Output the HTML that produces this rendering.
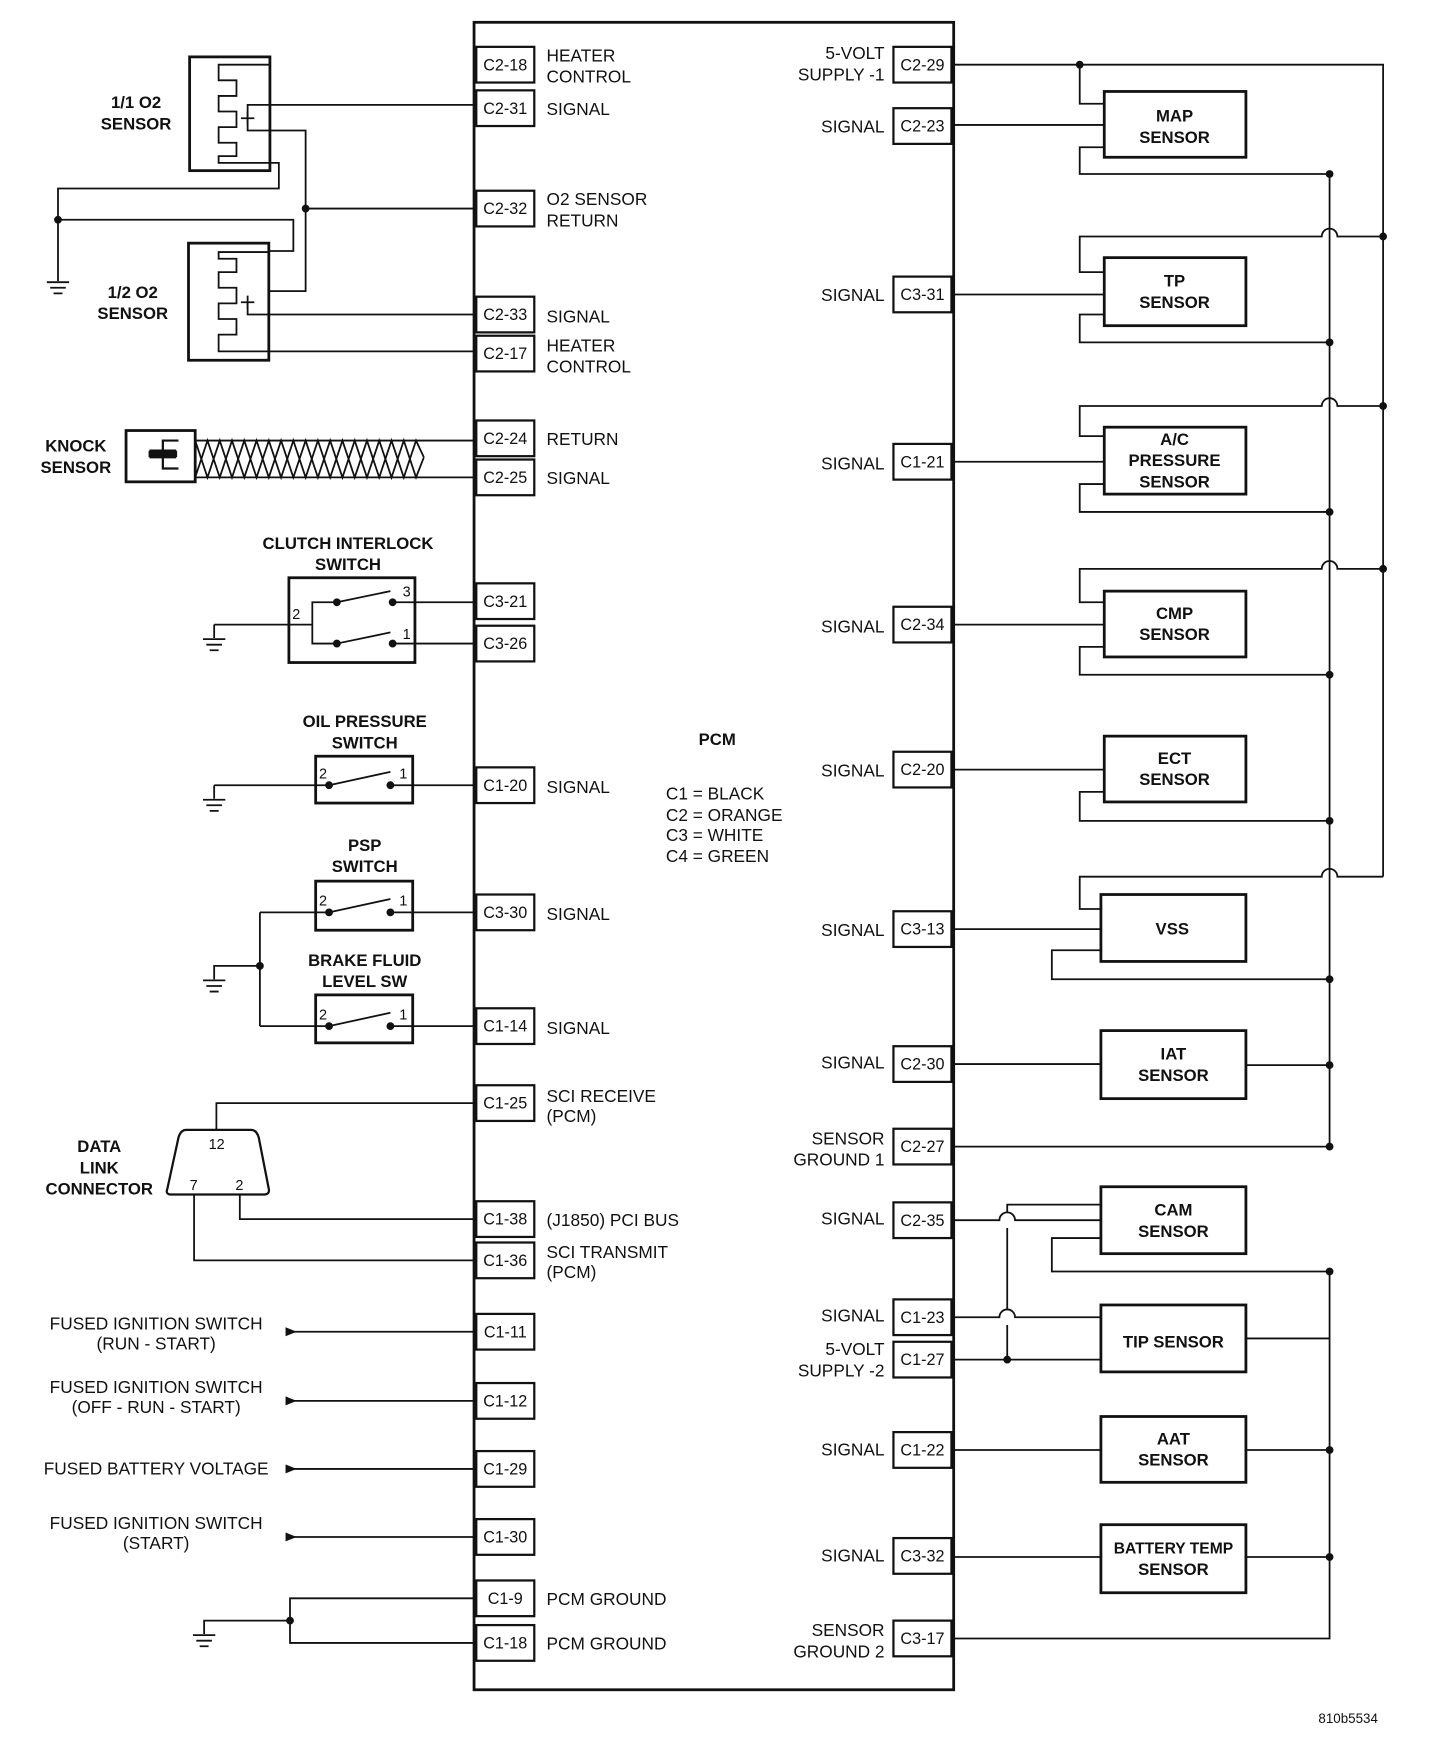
<!DOCTYPE html>
<html><head><meta charset="utf-8"><style>
html,body{margin:0;padding:0;background:#fff;}
svg{display:block}
text{font-family:"Liberation Sans",Arial,sans-serif;fill:#111}
.l{font-size:15.5px}
.b{font-size:15px;font-weight:bold}
.c{font-size:14.5px}
</style></head><body>
<svg width="1440" height="1750" viewBox="0 0 1291 1569" preserveAspectRatio="none" xmlns="http://www.w3.org/2000/svg">
<g fill="none" stroke="#111" stroke-width="1.6">
<!-- PCM box -->
<rect x="425" y="20" width="430" height="1495" stroke-width="2.5"/>
<!-- left connector boxes -->
<g stroke-width="2">
<rect x="427" y="42" width="52" height="32"/>
<rect x="427" y="81" width="52" height="32"/>
<rect x="427" y="171" width="52" height="32"/>
<rect x="427" y="266" width="52" height="32"/>
<rect x="427" y="301" width="52" height="32"/>
<rect x="427" y="377" width="52" height="32"/>
<rect x="427" y="412" width="52" height="32"/>
<rect x="427" y="523" width="52" height="32"/>
<rect x="427" y="561" width="52" height="32"/>
<rect x="427" y="688" width="52" height="32"/>
<rect x="427" y="802" width="52" height="32"/>
<rect x="427" y="904" width="52" height="32"/>
<rect x="427" y="973" width="52" height="32"/>
<rect x="427" y="1077" width="52" height="32"/>
<rect x="427" y="1114" width="52" height="32"/>
<rect x="427" y="1178" width="52" height="32"/>
<rect x="427" y="1240" width="52" height="32"/>
<rect x="427" y="1301" width="52" height="32"/>
<rect x="427" y="1362" width="52" height="32"/>
<rect x="427" y="1417" width="52" height="32"/>
<rect x="427" y="1457" width="52" height="32"/>
<!-- right connector boxes -->
<rect x="801" y="42" width="52" height="32"/>
<rect x="801" y="97" width="52" height="32"/>
<rect x="801" y="248" width="52" height="32"/>
<rect x="801" y="398" width="52" height="32"/>
<rect x="801" y="544" width="52" height="32"/>
<rect x="801" y="674" width="52" height="32"/>
<rect x="801" y="817" width="52" height="32"/>
<rect x="801" y="938" width="52" height="32"/>
<rect x="801" y="1012" width="52" height="32"/>
<rect x="801" y="1078" width="52" height="32"/>
<rect x="801" y="1165" width="52" height="32"/>
<rect x="801" y="1203" width="52" height="32"/>
<rect x="801" y="1284" width="52" height="32"/>
<rect x="801" y="1379" width="52" height="32"/>
<rect x="801" y="1453" width="52" height="32"/>
</g>

<!-- O2 sensors -->
<rect x="170" y="51" width="72" height="102" stroke-width="2.5"/>
<path d="M242 58 H196 V72 H212 V86 H196 V100 H212 V114 H196 V128 H212 V140 H196 V146 H242"/>
<path d="M216 106 H228 M222 100 V112"/>
<path d="M427 94 H222 V117 H274 V261 H242"/>
<path d="M274 187 H427"/>
<path d="M242 146 H250 V169 H52 V252"/>
<path d="M52 197 H263 V225 H242"/>
<path d="M42 253 H62 M45 258 H59 M48 263 H56"/>
<rect x="169" y="218" width="72" height="105" stroke-width="2.5"/>
<path d="M427 315 H196 V300 H212 V286 H196 V272 H212 V258 H196 V244 H212 V232 H196 V226 H242"/>
<path d="M216 271 H228 M222 265 V277"/>
<path d="M427 282 H222 V271"/>

<!-- Knock sensor -->
<rect x="113" y="386" width="62" height="46" stroke-width="2.5"/>
<path d="M160 395 H146 V404 M134 404 H158 M134 410 H158 M146 410 V420 H160" stroke-width="2"/>
<rect x="134" y="405" width="24" height="4" fill="#111"/>
<path d="M175 395 H427 M175 428 H427"/>
<path d="M175 395 L186 428 L197 395 L208 428 L219 395 L230 428 L241 395 L252 428 L263 395 L274 428 L285 395 L296 428 L307 395 L318 428 L329 395 L340 428 L351 395 L362 428 L373 395 L380 410"/>
<path d="M175 428 L186 395 L197 428 L208 395 L219 428 L230 395 L241 428 L252 395 L263 428 L274 395 L285 428 L296 395 L307 428 L318 395 L329 428 L340 395 L351 428 L362 395 L373 428 L380 410"/>

<!-- Clutch switch -->
<rect x="259" y="518" width="113" height="76" stroke-width="2.5"/>
<path d="M192 560 H259 M192 560 V572 M182 573 H202 M185 578 H199 M188 583 H196"/>
<path d="M259 560 H280 V540 H302 M280 560 V577 H302"/>
<path d="M302 540 L350 530 M302 577 L350 567"/>
<path d="M352 540 H427 M352 577 H427"/>
<!-- Oil pressure -->
<rect x="283" y="678" width="87" height="42" stroke-width="2.5"/>
<path d="M192 704 H295 L350 692 M350 704 H427 M192 704 V716 M182 717 H202 M185 722 H199 M188 727 H196"/>
<!-- PSP -->
<rect x="283" y="790" width="87" height="44" stroke-width="2.5"/>
<path d="M233 818 H295 L350 806 M350 818 H427"/>
<rect x="283" y="892" width="87" height="43" stroke-width="2.5"/>
<path d="M233 920 H295 L350 908 M350 920 H427"/>
<path d="M233 818 V920 M233 866 H192 V878 M182 879 H202 M185 884 H199 M188 889 H196"/>

<!-- DLC -->
<path d="M167 1013 H225 Q230 1013 232 1020 L241 1066 Q242 1071 236 1071 H154 Q148 1071 150 1066 L160 1020 Q162 1013 167 1013 Z" stroke-width="2"/>
<path d="M194 1013 V989 H427 M215 1071 V1093 H427 M174 1071 V1130 H427"/>

<!-- fused lines -->
<path d="M258 1194 H427 M258 1256 H427 M258 1317 H427 M258 1378 H427"/>
<!-- bottom ground -->
<path d="M427 1433 H260 V1473 H427 M260 1453 H183 V1465 M173 1466 H193 M176 1471 H190 M179 1476 H187"/>

<!-- Right side -->
<g stroke-width="2.5">
<rect x="990" y="82" width="127" height="59"/>
<rect x="990" y="231" width="127" height="61"/>
<rect x="990" y="383" width="127" height="60"/>
<rect x="990" y="530" width="127" height="59"/>
<rect x="990" y="660" width="127" height="59"/>
<rect x="987" y="802" width="130" height="60"/>
<rect x="987" y="924" width="130" height="61"/>
<rect x="987" y="1064" width="130" height="60"/>
<rect x="987" y="1170" width="130" height="60"/>
<rect x="987" y="1270" width="130" height="59"/>
<rect x="987" y="1367" width="130" height="61"/>
</g>
<!-- 5V bus -->
<path d="M855 58 H1240 V786"/>
<path d="M968 58 V93 H990 M855 112 H990 M990 132 H968 V156 H1192"/>
<path d="M1240 212 H1199 A7 7 0 0 0 1185 212 H968 V244 H990 M855 264 H990 M990 282 H968 V307 H1192"/>
<path d="M1240 364 H1199 A7 7 0 0 0 1185 364 H968 V391 H990 M855 414 H990 M990 434 H968 V459 H1192"/>
<path d="M1240 510 H1199 A7 7 0 0 0 1185 510 H968 V540 H990 M855 560 H990 M990 580 H968 V605 H1192"/>
<path d="M855 690 H990 M990 710 H968 V736 H1192"/>
<path d="M1240 786 H1199 A7 7 0 0 0 1185 786 H968 V815 H987 M855 833 H987 M987 852 H943 V878 H1192"/>
<path d="M855 954 H987 M1117 955 H1192 M855 1028 H1192"/>
<!-- ground bus 1 -->
<path d="M1192 156 V1028"/>
<!-- lower -->
<path d="M855 1094 H896 A7 7 0 0 1 910 1094 H987 M987 1080 H903 V1087 M903 1101 V1174 M903 1188 V1219"/>
<path d="M855 1181 H896 A7 7 0 0 1 910 1181 H987 M855 1219 H987"/>
<path d="M987 1110 H943 V1140 H1192 V1469 H855"/>
<path d="M1117 1200 H1192 M855 1300 H987 M1117 1300 H1192 M855 1396 H987 M1117 1396 H1192"/>
</g>
<!-- dots -->
<g fill="#111">
<circle cx="274" cy="187" r="3.5"/><circle cx="52" cy="197" r="3.5"/>
<circle cx="302" cy="540" r="3.5"/><circle cx="302" cy="577" r="3.5"/>
<circle cx="352" cy="540" r="3.5"/><circle cx="352" cy="577" r="3.5"/>
<circle cx="295" cy="704" r="3.5"/><circle cx="350" cy="704" r="3.5"/>
<circle cx="295" cy="818" r="3.5"/><circle cx="350" cy="818" r="3.5"/>
<circle cx="295" cy="920" r="3.5"/><circle cx="350" cy="920" r="3.5"/>
<circle cx="233" cy="866" r="3.5"/><circle cx="260" cy="1453" r="3.5"/>
<circle cx="968" cy="58" r="3.5"/>
<circle cx="1240" cy="212" r="3.5"/><circle cx="1240" cy="364" r="3.5"/><circle cx="1240" cy="510" r="3.5"/>
<circle cx="1192" cy="156" r="3.5"/><circle cx="1192" cy="307" r="3.5"/><circle cx="1192" cy="459" r="3.5"/>
<circle cx="1192" cy="605" r="3.5"/><circle cx="1192" cy="736" r="3.5"/><circle cx="1192" cy="878" r="3.5"/>
<circle cx="1192" cy="955" r="3.5"/><circle cx="1192" cy="1028" r="3.5"/>
<circle cx="1192" cy="1140" r="3.5"/><circle cx="1192" cy="1300" r="3.5"/><circle cx="1192" cy="1396" r="3.5"/>
<circle cx="903" cy="1219" r="3.5"/>
<path d="M256 1190 L266 1194 L256 1198 Z M256 1252 L266 1256 L256 1260 Z M256 1313 L266 1317 L256 1321 Z M256 1374 L266 1378 L256 1382 Z"/>
</g>

<!-- connector labels -->
<g class="c" text-anchor="middle">
<text x="453" y="63">C2-18</text><text x="453" y="102">C2-31</text><text x="453" y="192">C2-32</text>
<text x="453" y="287">C2-33</text><text x="453" y="322">C2-17</text><text x="453" y="398">C2-24</text>
<text x="453" y="433">C2-25</text><text x="453" y="544">C3-21</text><text x="453" y="582">C3-26</text>
<text x="453" y="709">C1-20</text><text x="453" y="823">C3-30</text><text x="453" y="925">C1-14</text>
<text x="453" y="994">C1-25</text><text x="453" y="1098">C1-38</text><text x="453" y="1135">C1-36</text>
<text x="453" y="1199">C1-11</text><text x="453" y="1261">C1-12</text><text x="453" y="1322">C1-29</text>
<text x="453" y="1383">C1-30</text><text x="453" y="1438">C1-9</text><text x="453" y="1478">C1-18</text>
<text x="827" y="63">C2-29</text><text x="827" y="118">C2-23</text><text x="827" y="269">C3-31</text>
<text x="827" y="419">C1-21</text><text x="827" y="565">C2-34</text><text x="827" y="695">C2-20</text>
<text x="827" y="838">C3-13</text><text x="827" y="959">C2-30</text><text x="827" y="1033">C2-27</text>
<text x="827" y="1099">C2-35</text><text x="827" y="1186">C1-23</text><text x="827" y="1224">C1-27</text>
<text x="827" y="1305">C1-22</text><text x="827" y="1400">C3-32</text><text x="827" y="1474">C3-17</text>
</g>
<g class="l">
<text x="490" y="55">HEATER</text><text x="490" y="74">CONTROL</text>
<text x="490" y="103">SIGNAL</text>
<text x="490" y="184">O2 SENSOR</text><text x="490" y="203">RETURN</text>
<text x="490" y="289">SIGNAL</text>
<text x="490" y="315">HEATER</text><text x="490" y="334">CONTROL</text>
<text x="490" y="399">RETURN</text><text x="490" y="434">SIGNAL</text>
<text x="490" y="711">SIGNAL</text><text x="490" y="825">SIGNAL</text><text x="490" y="927">SIGNAL</text>
<text x="490" y="988">SCI RECEIVE</text><text x="490" y="1006">(PCM)</text>
<text x="490" y="1099">(J1850) PCI BUS</text>
<text x="490" y="1128">SCI TRANSMIT</text><text x="490" y="1146">(PCM)</text>
<text x="490" y="1439">PCM GROUND</text><text x="490" y="1479">PCM GROUND</text>
<text x="597" y="717">C1 = BLACK</text><text x="597" y="736">C2 = ORANGE</text>
<text x="597" y="754">C3 = WHITE</text><text x="597" y="773">C4 = GREEN</text>
</g>
<g class="l" text-anchor="end">
<text x="793" y="53">5-VOLT</text><text x="793" y="72">SUPPLY -1</text>
<text x="793" y="119">SIGNAL</text><text x="793" y="270">SIGNAL</text><text x="793" y="421">SIGNAL</text>
<text x="793" y="567">SIGNAL</text><text x="793" y="696">SIGNAL</text><text x="793" y="839">SIGNAL</text>
<text x="793" y="958">SIGNAL</text>
<text x="793" y="1026">SENSOR</text><text x="793" y="1045">GROUND 1</text>
<text x="793" y="1098">SIGNAL</text><text x="793" y="1185">SIGNAL</text>
<text x="793" y="1215">5-VOLT</text><text x="793" y="1234">SUPPLY -2</text>
<text x="793" y="1305">SIGNAL</text><text x="793" y="1400">SIGNAL</text>
<text x="793" y="1467">SENSOR</text><text x="793" y="1486">GROUND 2</text>
</g>
<g class="l" text-anchor="middle">
<text x="140" y="1192">FUSED IGNITION SWITCH</text><text x="140" y="1210">(RUN - START)</text>
<text x="140" y="1249">FUSED IGNITION SWITCH</text><text x="140" y="1267">(OFF - RUN - START)</text>
<text x="140" y="1322">FUSED BATTERY VOLTAGE</text>
<text x="140" y="1371">FUSED IGNITION SWITCH</text><text x="140" y="1389">(START)</text>
</g>
<g class="b" text-anchor="middle">
<text x="122" y="97">1/1 O2</text><text x="122" y="116">SENSOR</text>
<text x="119" y="267">1/2 O2</text><text x="119" y="286">SENSOR</text>
<text x="68" y="405">KNOCK</text><text x="68" y="424">SENSOR</text>
<text x="312" y="492">CLUTCH INTERLOCK</text><text x="312" y="511">SWITCH</text>
<text x="327" y="652">OIL PRESSURE</text><text x="327" y="671">SWITCH</text>
<text x="327" y="763">PSP</text><text x="327" y="782">SWITCH</text>
<text x="327" y="866">BRAKE FLUID</text><text x="327" y="885">LEVEL SW</text>
<text x="89" y="1033">DATA</text><text x="89" y="1052">LINK</text><text x="89" y="1071">CONNECTOR</text>
<text x="643" y="668">PCM</text>
<text x="1053" y="109">MAP</text><text x="1053" y="128">SENSOR</text>
<text x="1053" y="257">TP</text><text x="1053" y="276">SENSOR</text>
<text x="1053" y="399">A/C</text><text x="1053" y="418">PRESSURE</text><text x="1053" y="437">SENSOR</text>
<text x="1053" y="555">CMP</text><text x="1053" y="574">SENSOR</text>
<text x="1053" y="685">ECT</text><text x="1053" y="704">SENSOR</text>
<text x="1051" y="838">VSS</text>
<text x="1052" y="950">IAT</text><text x="1052" y="969">SENSOR</text>
<text x="1052" y="1090">CAM</text><text x="1052" y="1109">SENSOR</text>
<text x="1052" y="1208">TIP SENSOR</text>
<text x="1052" y="1295">AAT</text><text x="1052" y="1314">SENSOR</text>
<text x="1052" y="1393" style="font-size:14px">BATTERY TEMP</text><text x="1052" y="1412">SENSOR</text>
</g>
<g style="font-size:13px">
<text x="262" y="555">2</text><text x="361" y="535">3</text><text x="361" y="573">1</text>
<text x="286" y="698">2</text><text x="358" y="698">1</text>
<text x="286" y="812">2</text><text x="358" y="812">1</text>
<text x="286" y="914">2</text><text x="358" y="914">1</text>
<text x="187" y="1030">12</text><text x="170" y="1067">7</text><text x="211" y="1067">2</text>
<text x="1182" y="1545" style="font-size:12px">810b5534</text>
</g>
</svg>
</body></html>
